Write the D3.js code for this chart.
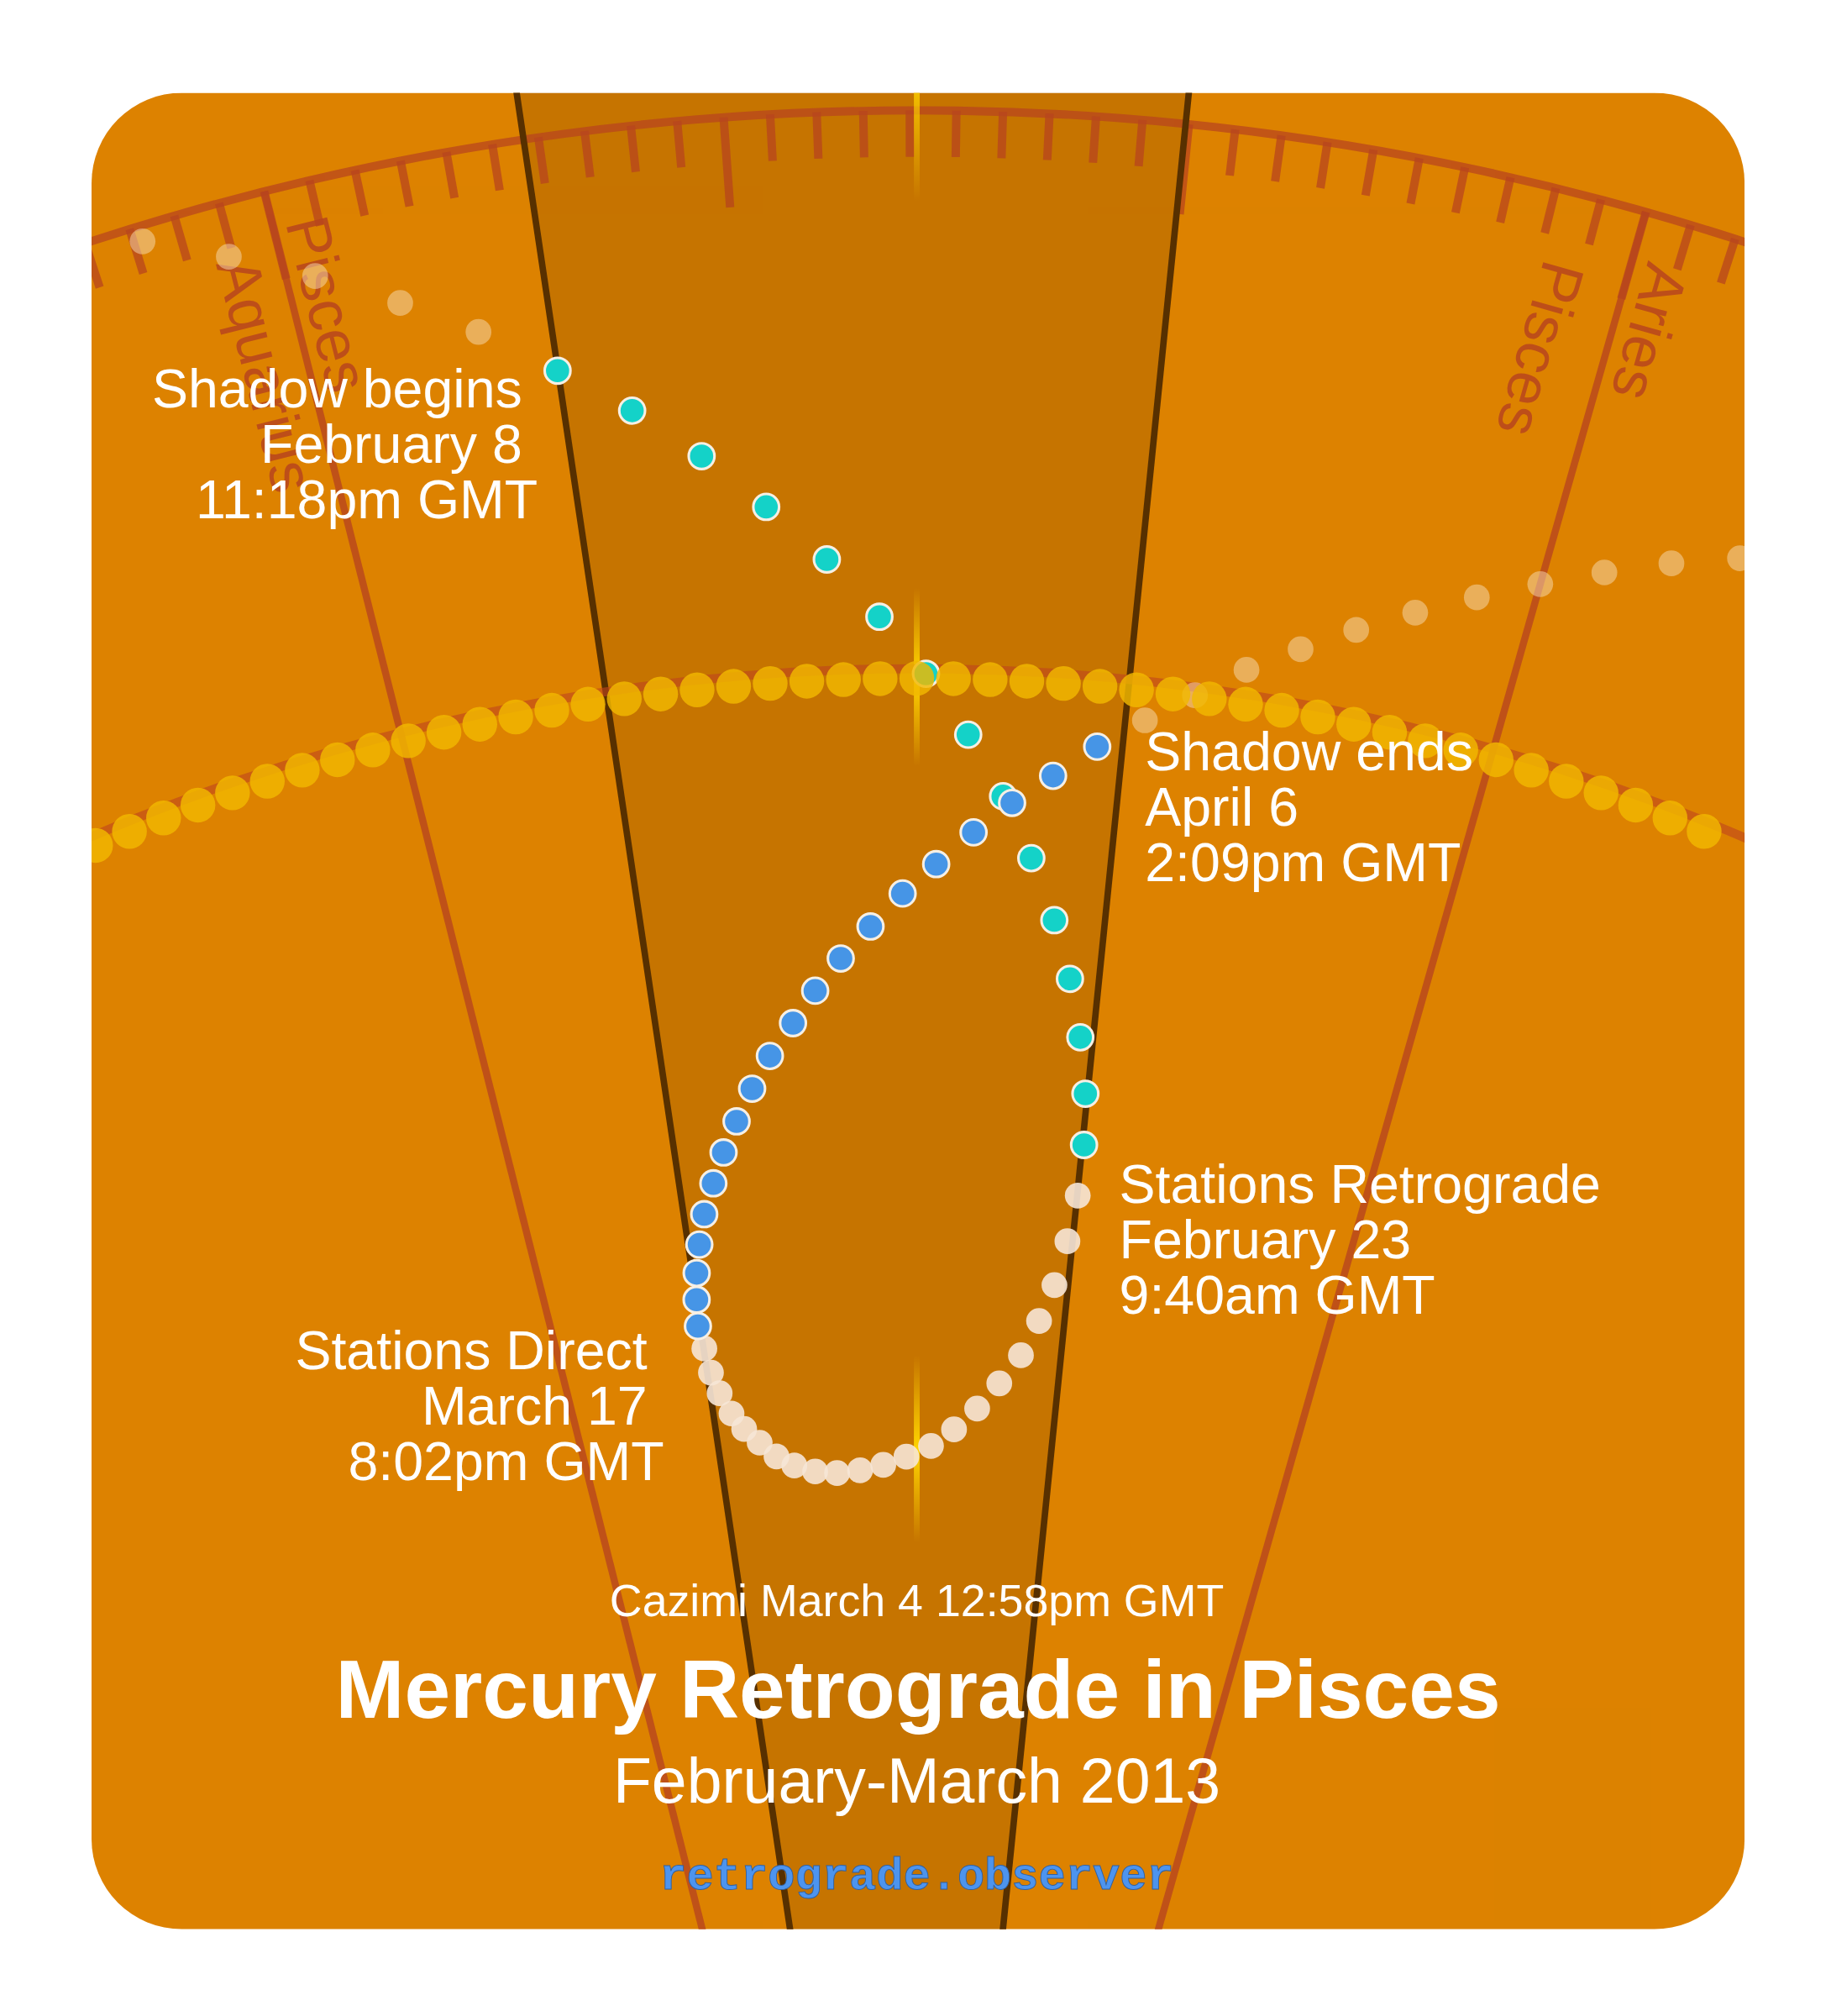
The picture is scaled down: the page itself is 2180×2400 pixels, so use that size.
<!DOCTYPE html>
<html><head><meta charset="utf-8">
<script src="https://cdnjs.cloudflare.com/ajax/libs/d3/7.8.5/d3.min.js"></script>
<style>body{margin:0;background:#fff}svg{display:block}</style>
</head><body>
<svg id="c" width="2180" height="2400" viewBox="0 0 1420 1563.3"></svg>
<script>
// ---- data (ecliptic longitude in degrees, latitude-like offset) ----
const sunLon = 344.15;             // cazimi
const shadowStart = 335.68, stationRetro = 349.93; // retro zone edges
const signBoundaries = [330, 360];
const signLabels = [
  {name:"Aquarius", lon:330, off:-50, r:2025},
  {name:"Pisces",   lon:330, off:10,  r:2043},
  {name:"Pisces",   lon:360, off:-66, r:2015},
  {name:"Aries",    lon:360, off:12,  r:2035}
];
const sunDots = [321.15,322.15,323.15,324.15,325.15,326.15,327.15,328.15,329.15,330.15,331.15,332.15,333.15,334.15,335.15,336.15,337.15,338.15,339.15,340.15,341.15,342.15,343.15,344.15,345.15,346.15,347.15,348.15,349.15,350.15,351.15,352.15,353.15,354.15,355.15,356.15,357.15,358.15,359.15,360.15,361.15,362.15,363.15,364.15,365.15,366.15];
const preLon = [327.19,328.9,330.64,332.37,334.0];
const preLat = [3.57,3.32,3.06,2.77,2.49];
const shadowLon = [335.67,337.30,338.86,340.36,341.83,343.16,344.40,345.59,346.64,347.56,348.38,349.01,349.51,349.86,349.99];
const shadowLat = [2.16,1.84,1.50,1.14,0.78,0.40,0.03,-0.36,-0.75,-1.14,-1.53,-1.90,-2.27,-2.63,-2.96];
const retroLon = [349.95,349.74,349.41,348.94,348.33,347.53,346.67,345.73,344.76,343.70,342.69,341.67,340.66,339.71,338.83,338.10,337.45,336.87,336.43,336.06,335.83,335.71];
const retroLat = [-3.29,-3.59,-3.88,-4.12,-4.35,-4.54,-4.71,-4.85,-4.96,-5.03,-5.08,-5.11,-5.12,-5.10,-5.05,-4.98,-4.88,-4.78,-4.67,-4.53,-4.39,-4.23];
const postLon = [335.59,335.69,335.84,336.09,336.42,336.89,337.38,337.95,338.59,339.28,340.12,340.90,341.76,342.72,343.72,344.73,345.82,346.91,348.04,349.22];
const postLat = [-4.08,-3.91,-3.74,-3.56,-3.37,-3.18,-2.99,-2.80,-2.60,-2.40,-2.20,-2.00,-1.80,-1.60,-1.39,-1.20,-0.99,-0.79,-0.60,-0.39];
const afterLon = [350.47,351.75,353.03,354.36,355.70,357.10,358.54,360.0,361.45,362.95,364.48];
const afterLat = [-0.19,0.01,0.22,0.41,0.60,0.79,0.98,1.17,1.36,1.55,1.73];
const labels = [
  {lines:["Shadow begins","February 8","11:18pm GMT"], x:[405,405,417], y:316, anchor:"end"},
  {lines:["Shadow ends","April 6","2:09pm GMT"], x:[888,888,888], y:597, anchor:"start"},
  {lines:["Stations Retrograde","February 23","9:40am GMT"], x:[868,868,868], y:933, anchor:"start"},
  {lines:["Stations Direct","March 17","8:02pm GMT"], x:[502,502,515], y:1062, anchor:"end"}
];
const titleText = "Mercury Retrograde in Pisces";
const subtitleText = "February-March 2013";
const cazimiText = "Cazimi March 4 12:58pm GMT";
const siteText = "retrograde.observer";

// ---- projection ----
const cx = 711, cy = 2156;
const rScale = d3.scaleLinear().domain([0,1]).range([1630,1750]);
const ang = d3.scaleLinear().domain([sunLon, sunLon+1]).range([0, Math.PI/180]);
const ringLat = 3.67, ringR = rScale(ringLat);
function pxy(lon, r){ const t = ang(lon); return [cx + r*Math.sin(t), cy - r*Math.cos(t)]; }
function P(lon, lat){ return pxy(lon, rScale(lat)); }

const svg = d3.select("#c");
const defs = svg.append("defs");
defs.append("clipPath").attr("id","card").append("rect")
  .attr("x",71).attr("y",72).attr("width",1282).attr("height",1424).attr("rx",70);
const g = svg.append("g").attr("clip-path","url(#card)");
g.append("rect").attr("x",71).attr("y",72).attr("width",1282).attr("height",1424).attr("fill","#dd8200");

// retro wedge
const wedge = d3.arc().innerRadius(0).outerRadius(2600)
  .startAngle(ang(shadowStart)).endAngle(ang(stationRetro));
g.append("path").attr("d", wedge()).attr("transform",`translate(${cx},${cy})`).attr("fill","rgba(0,0,0,0.1)");

const zc = "#b8451e";
// zodiac ring
g.append("path").attr("d", d3.arc()({innerRadius:ringR-3.2,outerRadius:ringR+3.2,startAngle:ang(300),endAngle:ang(390)}))
  .attr("transform",`translate(${cx},${cy})`).attr("fill",zc).attr("opacity",0.75);
// ticks
const ticks = d3.range(300, 391, 1);
g.selectAll("line.tick").data(ticks).join("line")
  .each(function(d){
    const long = d % 10 === 0;
    const a = pxy(d, ringR), b = pxy(d, ringR - (long?70:36));
    d3.select(this).attr("x1",a[0]).attr("y1",a[1]).attr("x2",b[0]).attr("y2",b[1]);
  })
  .attr("stroke",zc).attr("stroke-width",6.5).attr("opacity",0.75);
// sign boundaries
g.selectAll("line.sign").data(signBoundaries).join("line")
  .each(function(d){ const a=pxy(d,ringR), b=pxy(d,500);
    d3.select(this).attr("x1",a[0]).attr("y1",a[1]).attr("x2",b[0]).attr("y2",b[1]); })
  .attr("stroke",zc).attr("stroke-width",5.5).attr("opacity",0.8);
// sign labels
signLabels.forEach(s=>{
  const t = ang(s.lon);
  const p = pxy(s.lon, s.r);
  const x = p[0] + s.off*Math.cos(t), y = p[1] + s.off*Math.sin(t);
  const rot = 90 + t*180/Math.PI;
  g.append("text").attr("transform",`translate(${x},${y}) rotate(${rot})`)
    .attr("font-family","Liberation Sans, Arial, sans-serif").attr("font-size",47)
    .attr("fill",zc).attr("opacity",0.85).text(s.name);
});

// wedge boundary lines
g.selectAll("line.edge").data([shadowStart, stationRetro]).join("line")
  .each(function(d){ const a=pxy(d,2600), b=pxy(d,0);
    d3.select(this).attr("x1",a[0]).attr("y1",a[1]).attr("x2",b[0]).attr("y2",b[1]); })
  .attr("stroke","#573000").attr("stroke-width",5);

// cazimi yellow marks
const cazSegs = [[2110,2000,0],[1700,1562,0.5],[1105,960,0.5]];
cazSegs.forEach((s,i)=>{
  const a = pxy(sunLon, s[0]), b = pxy(sunLon, s[1]);
  const gr = defs.append("linearGradient").attr("id","cz"+i).attr("gradientUnits","userSpaceOnUse")
    .attr("x1",a[0]).attr("y1",a[1]).attr("x2",b[0]).attr("y2",b[1]);
  if(s[2]===0){
    gr.append("stop").attr("offset",0).attr("stop-color","#ffd400").attr("stop-opacity",1);
    gr.append("stop").attr("offset",1).attr("stop-color","#ffd400").attr("stop-opacity",0);
  } else {
    gr.append("stop").attr("offset",0).attr("stop-color","#ffd400").attr("stop-opacity",0);
    gr.append("stop").attr("offset",0.5).attr("stop-color","#ffd400").attr("stop-opacity",1);
    gr.append("stop").attr("offset",1).attr("stop-color","#ffd400").attr("stop-opacity",0);
  }
  g.append("line").attr("x1",a[0]).attr("y1",a[1]).attr("x2",b[0]).attr("y2",b[1])
    .attr("stroke",`url(#cz${i})`).attr("stroke-width",4.5);
});

// ecliptic band
g.append("path").attr("d", d3.arc()({innerRadius:rScale(0)+4,outerRadius:rScale(0)+11,startAngle:ang(300),endAngle:ang(390)}))
  .attr("transform",`translate(${cx},${cy})`).attr("fill","#c0441e").attr("opacity",0.6);

// mercury faded (before/after shadow)
const faded = preLon.map((l,i)=>P(l,preLat[i])).concat(afterLon.map((l,i)=>P(l,afterLat[i])));
g.selectAll("circle.fade").data(faded).join("circle")
  .attr("cx",d=>d[0]).attr("cy",d=>d[1]).attr("r",10).attr("fill","#f8dcb4").attr("opacity",0.5);
// retrograde dots
g.selectAll("circle.retro").data(retroLon.map((l,i)=>P(l,retroLat[i]))).join("circle")
  .attr("cx",d=>d[0]).attr("cy",d=>d[1]).attr("r",10).attr("fill","#f6e6d6").attr("opacity",0.9);
// shadow dots
g.selectAll("circle.pre").data(shadowLon.map((l,i)=>P(l,shadowLat[i]))).join("circle")
  .attr("cx",d=>d[0]).attr("cy",d=>d[1]).attr("r",10).attr("fill","#14d2c8").attr("stroke","#f6efe4").attr("stroke-width",2);
g.selectAll("circle.post").data(postLon.map((l,i)=>P(l,postLat[i]))).join("circle")
  .attr("cx",d=>d[0]).attr("cy",d=>d[1]).attr("r",10).attr("fill","#4695e6").attr("stroke","#f6efe4").attr("stroke-width",2);

// sun dots (on top)
g.selectAll("circle.sun").data(sunDots.map(l=>P(l,0))).join("circle")
  .attr("cx",d=>d[0]).attr("cy",d=>d[1]).attr("r",13.5).attr("fill","#f2b800").attr("opacity",0.82);

// labels
const ff = "Liberation Sans, Arial, Helvetica, sans-serif";
labels.forEach(L=>{
  L.lines.forEach((t,i)=>{
    g.append("text").attr("x",L.x[i]).attr("y",L.y + i*43).attr("text-anchor",L.anchor)
      .attr("font-family",ff).attr("font-size",42).attr("fill","#fff").text(t);
  });
});
g.append("text").attr("x",711).attr("y",1253).attr("text-anchor","middle").attr("font-family",ff)
  .attr("font-size",35).attr("fill","#fff").text(cazimiText);
g.append("text").attr("x",712).attr("y",1332).attr("text-anchor","middle").attr("font-family",ff)
  .attr("font-size",64).attr("font-weight","bold").attr("fill","#fff").text(titleText);
g.append("text").attr("x",711).attr("y",1398).attr("text-anchor","middle").attr("font-family",ff)
  .attr("font-size",49).attr("fill","#fff").text(subtitleText);
g.append("text").attr("x",711).attr("y",1465).attr("text-anchor","middle")
  .attr("font-family","Liberation Mono, Courier New, monospace").attr("font-weight","bold")
  .attr("font-size",35).attr("fill","#4d94ee").attr("stroke","#3060a0").attr("stroke-width",0.6).text(siteText);
</script>
</body></html>
